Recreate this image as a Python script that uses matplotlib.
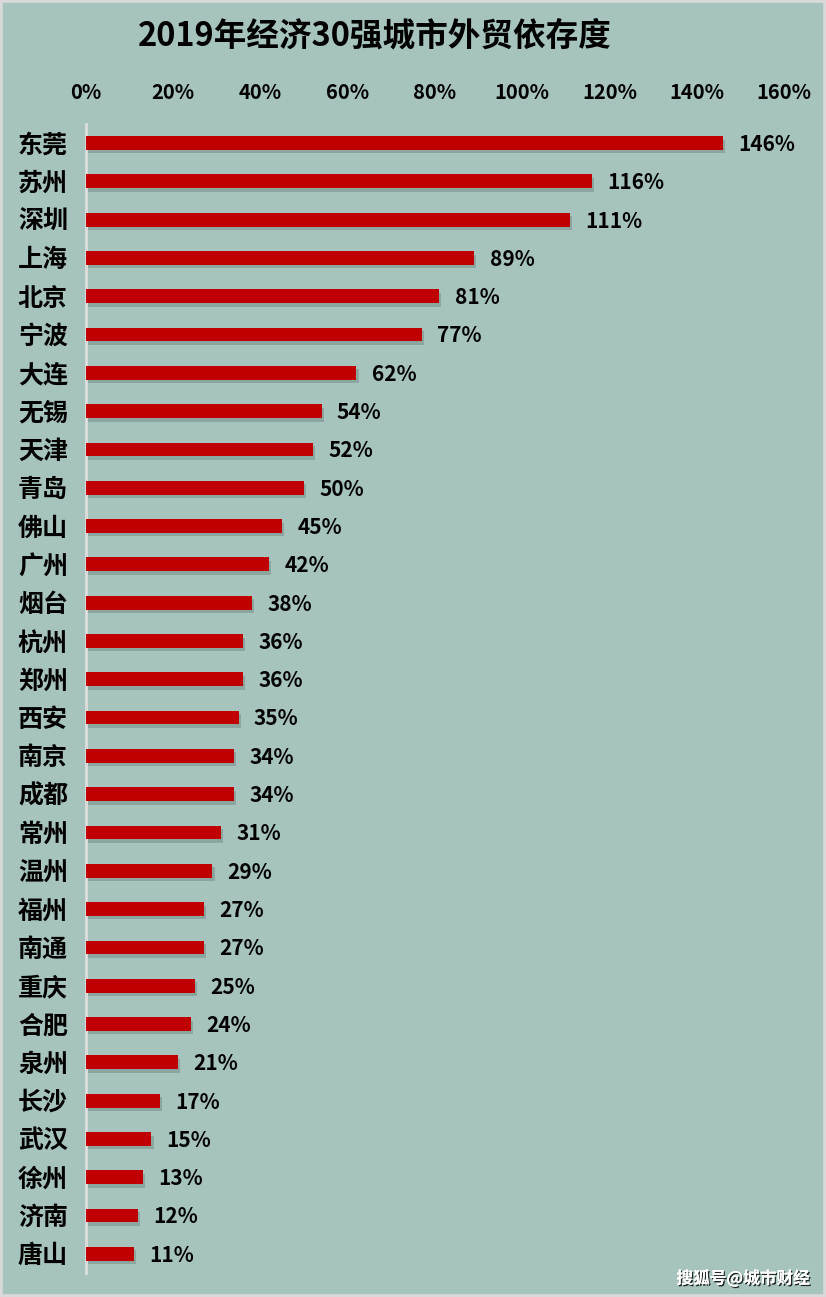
import matplotlib
matplotlib.use('Agg')
from matplotlib import pyplot as plt
from matplotlib import patheffects as pe
from matplotlib.patches import Rectangle

plt.rcParams['font.family'] = ['Noto Sans CJK SC', 'DejaVu Sans']
plt.rcParams['font.weight'] = 'bold'

# 城市与外贸依存度（%）
cities = ['东莞', '苏州', '深圳', '上海', '北京', '宁波', '大连', '无锡', '天津', '青岛',
          '佛山', '广州', '烟台', '杭州', '郑州', '西安', '南京', '成都', '常州', '温州',
          '福州', '南通', '重庆', '合肥', '泉州', '长沙', '武汉', '徐州', '济南', '唐山']
values = [146, 116, 111, 89, 81, 77, 62, 54, 52, 50,
          45, 42, 38, 36, 36, 35, 34, 34, 31, 29,
          27, 27, 25, 24, 21, 17, 15, 13, 12, 11]
xticks = [0, 20, 40, 60, 80, 100, 120, 140, 160]

bg = '#A6C4BD'
fig = plt.figure(figsize=(8.26, 12.97), dpi=100, facecolor=bg)
ax = fig.add_axes([0.1041, 0.0185, 0.845, 0.886])
ax.set_facecolor(bg)

y = list(range(len(cities)))
bars = ax.barh(y, values, height=0.36, color='#C00000', zorder=3)
for b in bars:
    b.set_path_effects([pe.withSimplePatchShadow(offset=(1.5, -2.5), shadow_rgbFace='#3a4d49', alpha=0.25),
                        pe.Normal()])

for yi, v in zip(y, values):
    ax.annotate(f'{v}%', (v, yi), xytext=(11, -1), textcoords='offset points',
                va='center', ha='left', fontsize=15, fontweight='bold', color='black')

ax.set_xlim(0, 160)
ax.set_ylim(len(cities) - 0.5, -0.5)
ax.set_yticks(y)
ax.set_yticklabels(cities, fontsize=18, fontweight='bold')
ax.set_xticks(xticks)
ax.set_xticklabels([f'{t}%' for t in xticks], fontsize=14.5, fontweight='bold')
ax.xaxis.tick_top()
ax.tick_params(axis='x', length=0, pad=15)
ax.tick_params(axis='y', length=0, pad=13)
for s in ['top', 'right', 'bottom']:
    ax.spines[s].set_visible(False)
ax.spines['left'].set_color('#DDDDDD')
ax.spines['left'].set_linewidth(2)

fig.text(0.454, 0.972, '2019年经济30强城市外贸依存度', ha='center', va='center',
         fontsize=23.5, fontweight='bold', color='black')
fig.text(0.98, 0.0145, '搜狐号@城市财经', ha='right', va='center', fontsize=12,
         fontweight='bold', color='white',
         path_effects=[pe.withSimplePatchShadow(offset=(1, -1), shadow_rgbFace='black', alpha=0.8), pe.Normal()])

fig.patches.append(Rectangle((0, 0), 1, 1, transform=fig.transFigure, fill=False,
                             edgecolor='#D9D9D9', linewidth=4, zorder=10))

fig.savefig('out.png', dpi=100, facecolor=bg)
